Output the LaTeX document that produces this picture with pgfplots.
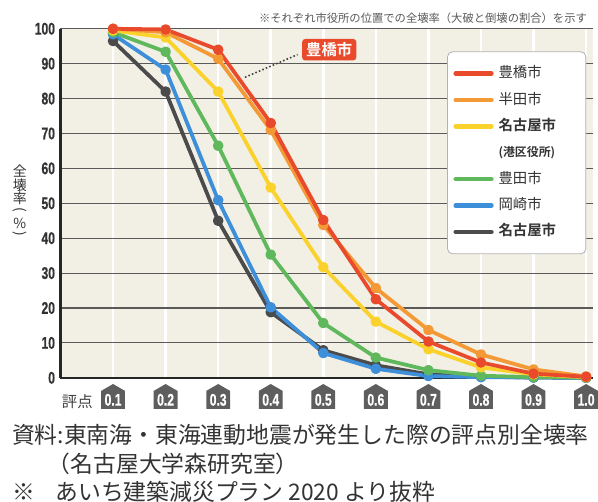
\documentclass[border=0pt]{standalone}
\usepackage{pgfplots}
\pgfplotsset{compat=1.18}
\usepackage{fontspec}
\setmainfont{Noto Sans CJK JP}[BoldFont={Noto Sans CJK JP Bold}]
\newfontfamily\condfont{Liberation Sans}[UprightFont={* Bold}, FakeStretch=0.72, FakeBold=0.6]
\usetikzlibrary{shapes.symbols}
\definecolor{cRed}{HTML}{E94A2C}
\definecolor{cOrange}{HTML}{F39A36}
\definecolor{cYellow}{HTML}{FBD12C}
\definecolor{cGreen}{HTML}{5FB85B}
\definecolor{cBlue}{HTML}{3D8FD9}
\definecolor{cGray}{HTML}{4B4B4B}
\definecolor{bgc}{HTML}{F2EFE5}
\definecolor{gridc}{HTML}{5A5A5A}
\definecolor{tickc}{HTML}{5E5E5E}
\definecolor{txtc}{HTML}{333333}
\newcommand\LE[1]{\makebox[82pt][l]{#1}}
\begin{document}
\begin{tikzpicture}
\begin{axis}[
  at={(0pt,0pt)}, anchor=south west,
  scale only axis, width=537pt, height=352pt,
  xmin=0, xmax=1.0132, ymin=0, ymax=100,
  clip=false,
  axis background/.style={fill=bgc},
  axis x line*=bottom, axis y line*=left,
  axis line style={line width=2.4pt, color=black!85},
  xtick={0.1,0.2,0.3,0.4,0.5,0.6,0.7,0.8,0.9,1.0},
  xticklabels={0.1,0.2,0.3,0.4,0.5,0.6,0.7,0.8,0.9,1.0},
  ytick={0,10,20,30,40,50,60,70,80,90,100},
  yticklabels={0,10,20,30,40,50,60,70,80,90,100},
  major tick length=0pt,
  xmajorgrids, ymajorgrids,
  x grid style={white, line width=2.5pt},
  y grid style={gridc, line width=1.1pt},
  yticklabel style={font=\condfont\fontsize{17}{17}\selectfont, text=txtc, xshift=-2pt},
  xticklabel style={shape=signal, signal to=north, signal pointer angle=120,
     fill=tickc, text=white, font=\condfont\fontsize{17}{17}\selectfont,
     inner xsep=2.5pt, inner ysep=3pt, minimum width=24pt, anchor=north, yshift=-6pt},
  every axis plot/.append style={line width=3.8pt, mark=*, mark size=3.4pt, line join=round},
  reverse legend,
  legend style={at={(0.726,0.935)}, anchor=north west, draw=gray!60, line width=0.8pt,
     rounded corners=5pt, fill=white, inner xsep=6pt, inner ysep=15pt,
     row sep=12.6pt, font=\fontsize{14.5}{14.5}\selectfont, text=txtc,
     nodes={text height=11pt, text depth=3pt, inner sep=0pt},
     /tikz/every odd column/.style={column sep=5pt}},
  legend cell align=left,
  legend image code/.code={\draw[#1, line width=4.5pt, line cap=round] (2pt,0pt) -- (38pt,0pt);},
]
\addplot[color=cGray] coordinates {(0.1,96.5) (0.2,82) (0.3,45) (0.4,18.8) (0.5,7.9) (0.6,3.6) (0.7,1.0) (0.8,0.3) (0.9,0.1) (1.0,0)};
\addlegendentry{\LE{\textbf{名古屋市}}}
\addplot[color=cBlue] coordinates {(0.1,98.4) (0.2,88.3) (0.3,50.9) (0.4,20.2) (0.5,7.1) (0.6,2.6) (0.7,0.5) (0.8,0.2) (0.9,0.1) (1.0,0)};
\addlegendentry{\LE{岡崎市}}
\addplot[color=cGreen] coordinates {(0.1,99) (0.2,93.4) (0.3,66.5) (0.4,35.3) (0.5,15.7) (0.6,5.8) (0.7,2.2) (0.8,0.6) (0.9,0.2) (1.0,0.1)};
\addlegendentry{\LE{豊田市}}
\addlegendimage{color=white}
\addlegendentry{\LE{\textbf{\fontsize{12}{12}\selectfont (港区役所)}}}
\addplot[color=cYellow] coordinates {(0.1,99.5) (0.2,97.5) (0.3,82) (0.4,54.5) (0.5,31.7) (0.6,16.1) (0.7,8.2) (0.8,3.0) (0.9,1.0) (1.0,0.2)};
\addlegendentry{\LE{\textbf{名古屋市}}}
\addplot[color=cOrange] coordinates {(0.1,100) (0.2,99) (0.3,91.4) (0.4,71) (0.5,43.8) (0.6,25.7) (0.7,13.7) (0.8,6.7) (0.9,2.4) (1.0,0.4)};
\addlegendentry{\LE{半田市}}
\addplot[color=cRed] coordinates {(0.1,100) (0.2,99.8) (0.3,94) (0.4,73) (0.5,45.2) (0.6,22.5) (0.7,10.4) (0.8,4.4) (0.9,1.2) (1.0,0.3)};
\addlegendentry{\LE{豊橋市}}
\draw[black!75, line width=1.6pt, dash pattern=on 1.6pt off 2.2pt] (axis cs:0.351,86.1) -- (axis cs:0.451,92.6);
\node[fill=cRed, text=white, rounded corners=3pt, font=\bfseries\fontsize{15.5}{15.5}\selectfont, inner xsep=4pt, inner ysep=3.5pt] at (axis cs:0.5113,94.0) {豊橋市};
\end{axis}
\path[use as bounding box] (-61pt,-125pt) rectangle (537pt,381pt);
\node[anchor=east, inner sep=0pt, font=\fontsize{11.4}{11.4}\selectfont, text=black!65] at (531pt,363pt) {※それぞれ市役所の位置での全壊率（大破と倒壊の割合）を示す};
\begin{scope}[every node/.style={inner sep=0pt, font=\fontsize{14}{14}\selectfont, text=txtc}]
\node at (-41pt,209pt) {全};
\node at (-41pt,194pt) {壊};
\node at (-41pt,181pt) {率};
\node at (-41pt,168pt) {\rotatebox[origin=c]{-90}{(}};
\node at (-41pt,156pt) {\%};
\node at (-41pt,144pt) {\rotatebox[origin=c]{-90}{)}};
\end{scope}
\node[inner sep=0pt, font=\fontsize{15.5}{15.5}\selectfont, text=black!75] at (17pt,-24pt) {評点};
\node[anchor=west, inner sep=0pt, font=\fontsize{23}{23}\selectfont, text=txtc] at (-49pt,-57pt) {資料:東南海・東海連動地震が発生した際の評点別全壊率};
\node[anchor=west, inner sep=0pt, font=\fontsize{23}{23}\selectfont, text=txtc] at (-13pt,-87pt) {（名古屋大学森研究室）};
\node[anchor=west, inner sep=0pt, font=\fontsize{23}{23}\selectfont, text=txtc] at (-49pt,-115pt) {※\hspace{0.9em}あいち建築減災プラン 2020 より抜粋};
\end{tikzpicture}
\end{document}
